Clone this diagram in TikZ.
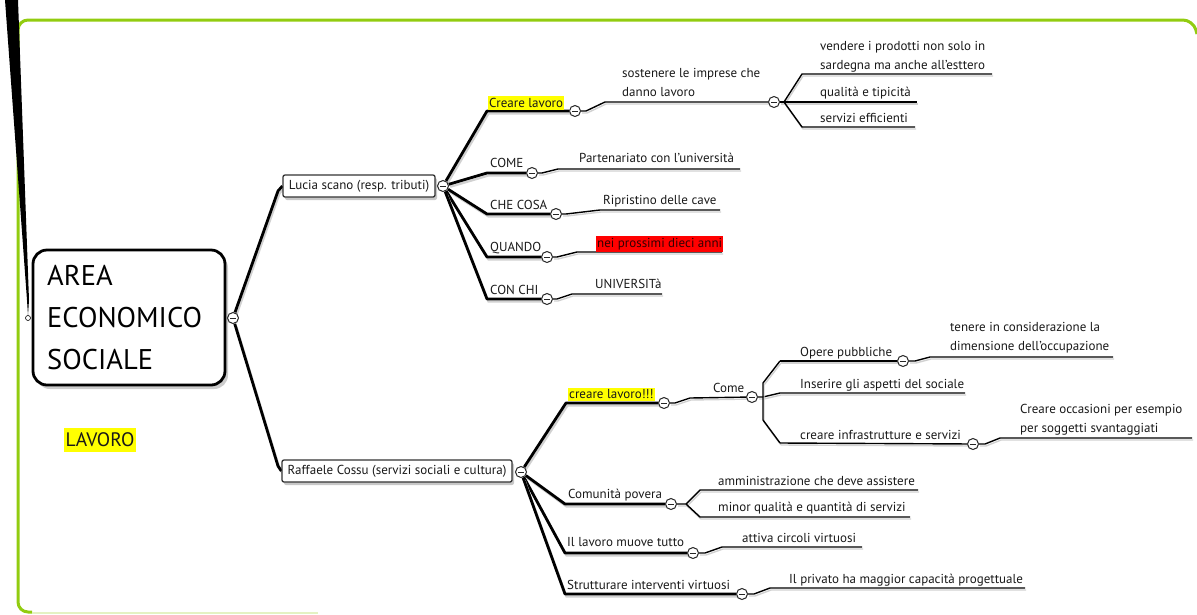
\documentclass[tikz,border=0pt]{standalone}
\usepackage{fontspec}
\setmainfont{PT Sans}
\usetikzlibrary{calc}
\pgfdeclarelayer{bg}
\pgfsetlayers{bg,main}
\definecolor{frameg}{HTML}{92CC10}
\definecolor{hly}{HTML}{FFFF00}
\definecolor{hlr}{HTML}{FF0000}
\tikzset{
  lbl/.style={font=\fontsize{13}{18.5}\selectfont, text=black!90, inner sep=0pt, anchor=base west, align=left},
  hl/.style={lbl, anchor=south west, inner xsep=1pt, inner ysep=2pt},
  tog/.style={circle, draw=black!85, line width=1pt, fill=white, inner sep=0pt, minimum size=11pt,
    path picture={\draw[line width=0.9pt] ([xshift=-3pt]path picture bounding box.center) -- ([xshift=3pt]path picture bounding box.center);}},
  e1/.style={line width=2.8pt, black, line join=round,
    preaction={draw=black!18, line width=2.2pt, transform canvas={shift={(1.5pt,-2.5pt)}}}},
  e2/.style={line width=1.4pt, black, line join=round,
    preaction={draw=black!18, line width=1.4pt, transform canvas={shift={(1pt,-2pt)}}}},
  subbox/.style={draw=black!80, line width=1.3pt, rounded corners=2pt, fill=white, inner xsep=3pt,
    font=\fontsize{13}{15}\selectfont, text=black!90, minimum height=22pt,
    preaction={fill=black!22, transform canvas={shift={(2pt,-3pt)}}}},
  frame/.style={draw=frameg, line width=3pt},
}
\begin{document}
\begin{tikzpicture}[x=1pt,y=-1pt]
\useasboundingbox (0,0) rectangle (1197,614);
% green frame
\draw[frame, rounded corners=10pt] (1197,34) -- (1193,20) -- (18,20) -- (18,612) -- (32,612);
\draw[draw=frameg!25, line width=2pt] (32,613) -- (318,613);
% incoming connector from off-canvas parent
\coordinate (top1) at (5,0);
\coordinate (top2) at (18,0);
\node[circle, draw=black, fill=white, line width=0.6pt, inner sep=0pt, minimum size=5pt] (cin) at (28,318) {};
\fill[black] (top1) -- (top2) -- (29,300) -- (cin.north) -- (27,300) -- cycle;
% central node
\node[draw=black, line width=2.8pt, rounded corners=14pt, minimum width=192pt, minimum height=135pt,
  preaction={fill=black!20, transform canvas={shift={(3pt,-4pt)}}}, fill=white] (C) at (129,317.5) {};
\node[font=\fontsize{28.5}{42}\selectfont, text=black, align=left, anchor=west, inner sep=0pt] (Ct) at (47,318) {AREA\\ECONOMICO\\SOCIALE};
\node[tog] (c0) at (233,318) {};
\node[font=\fontsize{19.5}{22}\selectfont, fill=hly, text=black!90, inner xsep=2pt, inner ysep=5pt] (lav) at (100,440) {LAVORO};
% level 1
\node[subbox, minimum width=152pt] (L) at (359,186) {Lucia scano (resp. tributi)};
\node[tog] (cL) at (443,186) {};
\node[subbox, minimum width=230pt] (R) at (397,471) {Raffaele Cossu (servizi sociali e cultura)};
\node[tog] (cR) at (521,472) {};
% Lucia children
\node[hl, fill=hly] (tA) at (488,110) {Creare lavoro};
\node[tog] (cA) at (575,111) {};
\node[lbl] (tB) at (490,167) {COME};
\node[tog] (cB) at (532,173) {};
\node[lbl] (tC) at (490,209) {CHE COSA};
\node[tog] (cC) at (556,214) {};
\node[lbl] (tD) at (490,251) {QUANDO};
\node[tog] (cD) at (547,257) {};
\node[lbl] (tE) at (490,294) {CON CHI};
\node[tog] (cE) at (547,299) {};
% Lucia grandchildren
\node[lbl] (tF) at (622,96) {sostenere le imprese che\\danno lavoro};
\node[tog] (cF) at (774,102) {};
\node[lbl] (tF1) at (820,69) {vendere i prodotti non solo in\\sardegna ma anche all'esttero};
\node[lbl] (tF2) at (820,96) {qualità e tipicità};
\node[lbl] (tF3) at (820,122) {servizi efficienti};
\node[lbl] (tB1) at (579,162) {Partenariato con l'università};
\node[lbl] (tC1) at (603,204) {Ripristino delle cave};
\node[hl, fill=hlr, text=black!80!red] (tD1) at (596,252) {nei prossimi dieci anni};
\node[lbl] (tE1) at (595,288) {UNIVERSITà};
% Raffaele children
\node[hl, fill=hly] (tG) at (568,401) {creare lavoro!!!};
\node[tog] (cG) at (664,403) {};
\node[lbl] (tH) at (568,498) {Comunità povera};
\node[tog] (cH) at (671,504) {};
\node[lbl] (tI) at (567,546) {Il lavoro muove tutto};
\node[tog] (cI) at (693,553) {};
\node[lbl] (tJ) at (567,589) {Strutturare interventi virtuosi};
\node[tog] (cJ) at (742,594) {};
% Raffaele grandchildren
\node[lbl] (tK) at (713,392) {Come};
\node[tog] (cK) at (752,397) {};
\node[lbl] (tM) at (800,356) {Opere pubbliche};
\node[tog] (cM) at (903,361) {};
\node[lbl] (tK2) at (800,388) {Inserire gli aspetti del sociale};
\node[lbl] (tN) at (800,439) {creare infrastrutture e servizi};
\node[tog] (cN) at (973,444) {};
\node[lbl] (tM1) at (950,350) {tenere in considerazione la\\dimensione dell'occupazione};
\node[lbl] (tN1) at (1020,432) {Creare occasioni per esempio\\per soggetti svantaggiati};
\node[lbl] (tH1) at (718,485) {amministrazione che deve assistere};
\node[lbl] (tH2) at (718,511) {minor qualità e quantità di servizi};
\node[lbl] (tI1) at (742,542) {attiva circoli virtuosi};
\node[lbl] (tJ1) at (789,583) {Il privato ha maggior capacità progettuale};
% underline end points
\coordinate (uF) at (605,102);
\coordinate (uF1a) at (802,74);  \coordinate (uF1b) at (992,74);
\coordinate (uF2) at (917,102);
\coordinate (uF3a) at (802,127); \coordinate (uF3b) at (915,127);
\coordinate (uB1a) at (558,169); \coordinate (uB1b) at (740,169);
\coordinate (uC1a) at (600,210); \coordinate (uC1b) at (720,210);
\coordinate (uD1a) at (577,252); \coordinate (uD1b) at (722,252);
\coordinate (uE1a) at (572,294); \coordinate (uE1b) at (662,294);
\coordinate (uK) at (690,398);
\coordinate (uMa) at (780,361);
\coordinate (uK2a) at (780,393); \coordinate (uK2b) at (965,393);
\coordinate (uNa) at (780,443);
\coordinate (uM1a) at (930,357); \coordinate (uM1b) at (1113,357);
\coordinate (uN1a) at (1000,438); \coordinate (uN1b) at (1192,438);
\coordinate (uH1a) at (700,490); \coordinate (uH1b) at (918,490);
\coordinate (uH2a) at (700,517); \coordinate (uH2b) at (910,517);
\coordinate (uI1a) at (722,547); \coordinate (uI1b) at (862,547);
\coordinate (uJ1a) at (770,588); \coordinate (uJ1b) at (1025,588);
\begin{pgfonlayer}{bg}
% level 1 connectors
\draw[e1] (c0) -- (278,191) -- (L.west);
\draw[e1] (c0) -- (278,466) -- (R.west);
% Lucia children
\draw[e1] (cL) -- (487,111) -- (cA);
\draw[e1] (cL) -- (487,173) -- (cB);
\draw[e1] (cL) -- (487,214) -- (cC);
\draw[e1] (cL) -- (487,257) -- (cD);
\draw[e1] (cL) -- (487,299) -- (cE);
% Raffaele children
\draw[e1] (cR) -- (566,403) -- (cG);
\draw[e1] (cR) -- (565,504) -- (cH);
\draw[e1] (cR) -- (565,553) -- (cI);
\draw[e1] (cR) -- (565,594) -- (cJ);
% grandchildren
\draw[e2] (cA) -- (586,111) -- (uF) -- (cF);
\draw[e2] (cF) -- (784,102) -- (uF1a) -- (uF1b);
\draw[e2] (cF) -- (uF2);
\draw[e2] (784,102) -- (uF3a) -- (uF3b);
\draw[e2] (cB) -- (542,173) -- (uB1a) -- (uB1b);
\draw[e2] (cC) -- (566,214) -- (uC1a) -- (uC1b);
\draw[e2] (cD) -- (557,257) -- (uD1a) -- (uD1b);
\draw[e2] (cE) -- (557,299) -- (uE1a) -- (uE1b);
\draw[e2] (cG) -- (675,403) -- (uK) -- (cK);
\draw[e2] (cK) -- (763,397) -- (uK2a) -- (uK2b);
\draw[e2] (uMa) -- (763,383) -- (763,420) -- (uNa);
\draw[e2] (uMa) -- (cM);
\draw[e2] (uNa) -- (cN);
\draw[e2] (cM) -- (915,361) -- (uM1a) -- (uM1b);
\draw[e2] (cN) -- (985,444) -- (uN1a) -- (uN1b);
\draw[e2] (cH) -- (686,504) -- (uH1a) -- (uH1b);
\draw[e2] (686,504) -- (uH2a) -- (uH2b);
\draw[e2] (cI) -- (705,553) -- (uI1a) -- (uI1b);
\draw[e2] (cJ) -- (754,594) -- (uJ1a) -- (uJ1b);
\end{pgfonlayer}
\end{tikzpicture}
\end{document}
